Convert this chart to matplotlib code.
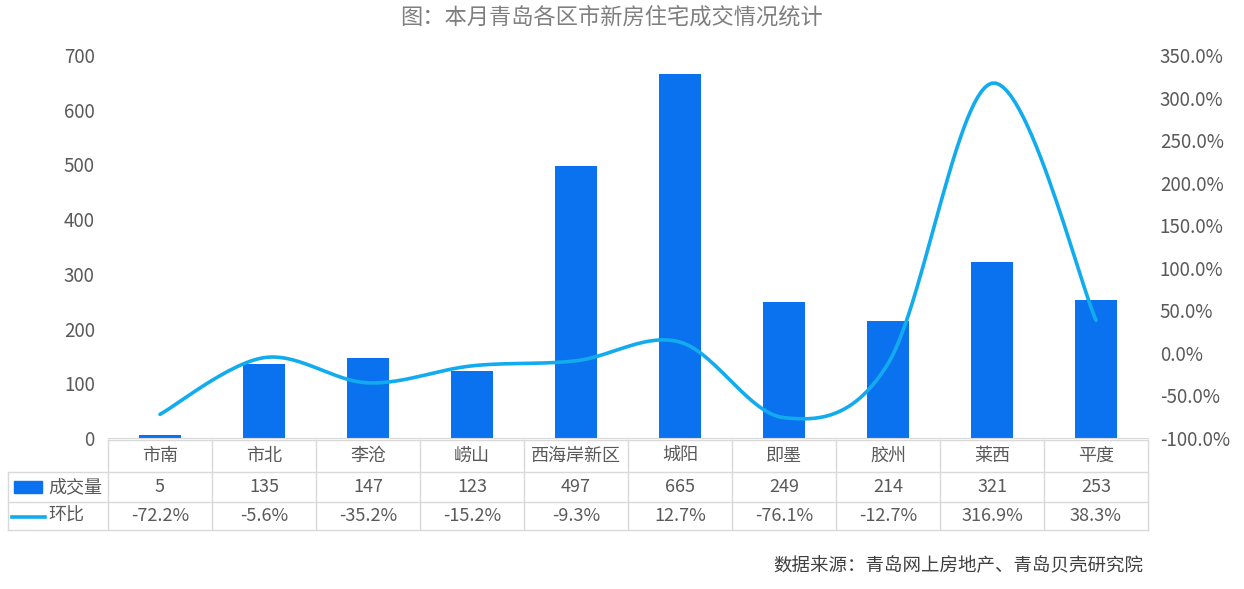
import numpy as np
import matplotlib.pyplot as plt
from matplotlib.lines import Line2D
from matplotlib.patches import Rectangle
from matplotlib.ticker import FuncFormatter

plt.rcParams['font.family'] = ['Noto Sans CJK SC', 'DejaVu Sans']

districts = ['市南', '市北', '李沧', '崂山', '西海岸新区', '城阳', '即墨', '胶州', '莱西', '平度']
volume = [5, 135, 147, 123, 497, 665, 249, 214, 321, 253]
mom = [-72.2, -5.6, -35.2, -15.2, -9.3, 12.7, -76.1, -12.7, 316.9, 38.3]

BAR = '#0A72EE'
LINE = '#12ACEE'
TXT = '#595959'
GRID = '#D9D9D9'

W, H = 1244, 589
fig = plt.figure(figsize=(W / 100, H / 100), dpi=100)

# plot area in pixels
x0, x1 = 108, 1148
y_top, y_bot = 55, 438
ax = fig.add_axes([x0 / W, 1 - y_bot / H, (x1 - x0) / W, (y_bot - y_top) / H])
n = len(districts)
xs = np.arange(n)
ax.bar(xs, volume, width=0.4, color=BAR, zorder=2)
ax.set_xlim(-0.5, n - 0.5)
ax.set_ylim(0, 700)
ax.set_yticks(range(0, 701, 100))
ax.set_xticks([])
for s in ['top', 'right', 'left']:
    ax.spines[s].set_visible(False)
ax.spines['bottom'].set_color(GRID)
ax.tick_params(axis='y', length=0, labelsize=13.5, labelcolor=TXT, pad=9.5)

ax2 = ax.twinx()
ax2.set_ylim(-100, 350)
ax2.set_yticks(range(-100, 351, 50))
ax2.yaxis.set_major_formatter(FuncFormatter(lambda v, p: f'{v:.1f}%'))
ax2.tick_params(axis='y', length=0, labelsize=13.5, labelcolor=TXT, pad=8.5)
for s in ['top', 'right', 'left', 'bottom']:
    ax2.spines[s].set_visible(False)


# smoothed line (Catmull-Rom like Excel's smoothing)
def smooth(x, y, steps=30):
    x = np.asarray(x, float)
    y = np.asarray(y, float)
    px = np.concatenate([[x[0]], x, [x[-1]]])
    py = np.concatenate([[y[0]], y, [y[-1]]])
    ox, oy = [], []
    for i in range(1, len(px) - 2):
        p0, p1, p2, p3 = (np.array([px[j], py[j]]) for j in (i - 1, i, i + 1, i + 2))
        c1 = p1 + (p2 - p0) / 6
        c2 = p2 - (p3 - p1) / 6
        t = np.linspace(0, 1, steps)[:, None]
        pts = (1 - t) ** 3 * p1 + 3 * (1 - t) ** 2 * t * c1 + 3 * (1 - t) * t ** 2 * c2 + t ** 3 * p2
        ox.extend(pts[:, 0])
        oy.extend(pts[:, 1])
    return ox, oy


sx, sy = smooth(xs, mom)
ax2.plot(sx, sy, color=LINE, lw=2.6, solid_capstyle='round', zorder=3)


# data table drawn in pixel coordinates
def fx(px):
    return px / W


def fy(py):
    return 1 - py / H


def hline(xa, xb, yy):
    fig.add_artist(Line2D([fx(xa), fx(xb)], [fy(yy), fy(yy)], color=GRID, lw=1))


def vline(xx, ya, yb):
    fig.add_artist(Line2D([fx(xx), fx(xx)], [fy(ya), fy(yb)], color=GRID, lw=1))


rows = [440, 472, 502, 530]
tbl_left = 8
cw = (x1 - x0) / n
hline(x0, x1, rows[0])
for r in rows[1:]:
    hline(tbl_left, x1, r)
vline(tbl_left, rows[1], rows[3])
for i in range(n + 1):
    vline(x0 + i * cw, rows[0], rows[3])

for i, name in enumerate(districts):
    cx = fx(x0 + (i + 0.5) * cw)
    fig.text(cx, fy((rows[0] + rows[1]) / 2), name, ha='center', va='center', fontsize=13, color=TXT)
    fig.text(cx, fy((rows[1] + rows[2]) / 2), f'{volume[i]}', ha='center', va='center', fontsize=13, color=TXT)
    fig.text(cx, fy((rows[2] + rows[3]) / 2), f'{mom[i]:.1f}%', ha='center', va='center', fontsize=13, color=TXT)

# legend keys in the table
fig.add_artist(Rectangle((fx(14), fy(493)), (42 - 14) / W, 12 / H, color=BAR))
fig.text(fx(48), fy((rows[1] + rows[2]) / 2), '成交量', ha='left', va='center', fontsize=13, color=TXT)
fig.add_artist(Line2D([fx(12), fx(45)], [fy(517), fy(517)], color=LINE, lw=2.6))
fig.text(fx(48), fy((rows[2] + rows[3]) / 2), '环比', ha='left', va='center', fontsize=13, color=TXT)

fig.text(fx(612), fy(17), '图：本月青岛各区市新房住宅成交情况统计', ha='center', va='center', fontsize=16, color='#7F7F7F')
fig.text(fx(1143), fy(566), '数据来源：青岛网上房地产、青岛贝壳研究院', ha='right', va='center', fontsize=13.3, color='#404040')

fig.savefig('out.png', dpi=100)
